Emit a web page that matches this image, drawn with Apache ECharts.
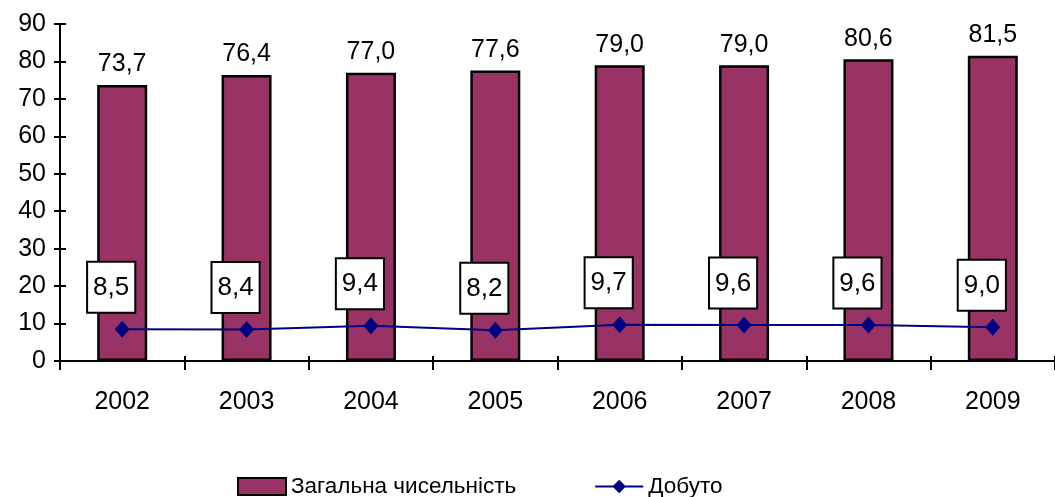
<!DOCTYPE html>
<html>
<head>
<meta charset="utf-8">
<script src="https://cdn.jsdelivr.net/npm/echarts@6/dist/echarts.min.js"></script>
<style>
  html, body { margin: 0; padding: 0; background: #fff; }
  #main { width: 1055px; height: 497px; }
</style>
</head>
<body>
<div id="main"></div>
<script>
var years = ['2002', '2003', '2004', '2005', '2006', '2007', '2008', '2009'];
var totalCount = [73.7, 76.4, 77.0, 77.6, 79.0, 79.0, 80.6, 81.5];
var produced = [8.5, 8.4, 9.4, 8.2, 9.7, 9.6, 9.6, 9.0];

var font = 'Liberation Sans, Arial, sans-serif';

function commaFmt(p) {
    return p.value.toFixed(1).replace('.', ',');
}

var chart = echarts.init(document.getElementById('main'));
chart.setOption({
    animation: false,
    textStyle: { fontFamily: font, color: '#000' },
    grid: { left: 60, right: -5, top: 24, bottom: 136 },
    legend: {
        top: 470,
        left: 232,
        itemGap: 78,
        itemWidth: 48,
        itemHeight: 17,
        textStyle: { fontSize: 22.5, color: '#000', fontFamily: font },
        data: [
            { name: 'Загальна чисельність', icon: 'rect' },
            { name: 'Добуто' }
        ]
    },
    xAxis: [
        {
            type: 'category',
            data: years,
            axisLine: { lineStyle: { color: '#000', width: 2 } },
            axisTick: { show: true, length: 9, lineStyle: { color: '#000', width: 2 } },
            axisLabel: { fontSize: 25, color: '#000', margin: 29, fontFamily: font }
        },
        {
            type: 'category',
            data: years,
            position: 'bottom',
            axisLine: { show: false },
            axisTick: { show: true, inside: true, length: 5, lineStyle: { color: '#000', width: 2 } },
            axisLabel: { show: false }
        }
    ],
    yAxis: [
        {
            type: 'value',
            min: 0,
            max: 90,
            interval: 10,
            splitLine: { show: false },
            axisLine: { show: true, lineStyle: { color: '#000', width: 2 } },
            axisTick: { show: true, length: 6, lineStyle: { color: '#000', width: 2 } },
            axisLabel: { fontSize: 25, color: '#000', margin: 14, fontFamily: font }
        },
        {
            type: 'value',
            min: 0,
            max: 90,
            interval: 10,
            position: 'left',
            splitLine: { show: false },
            axisLine: { show: false },
            axisTick: { show: true, inside: true, length: 6, lineStyle: { color: '#000', width: 2 } },
            axisLabel: { show: false }
        }
    ],
    series: [
        {
            name: 'Загальна чисельність',
            type: 'bar',
            data: totalCount,
            barWidth: 50,
            itemStyle: { color: '#993366', borderColor: '#000', borderWidth: 2.5 },
            label: {
                show: true,
                position: 'top',
                distance: 8,
                fontSize: 25,
                color: '#000',
                fontFamily: font,
                formatter: commaFmt
            }
        },
        {
            name: 'Добуто',
            type: 'line',
            data: produced,
            symbol: 'diamond',
            symbolSize: [15, 17],
            lineStyle: { color: '#000080', width: 2 },
            itemStyle: { color: '#000080' },
            label: {
                show: true,
                position: 'top',
                distance: 9,
                offset: [-11, 0],
                fontSize: 26,
                color: '#000',
                fontFamily: font,
                backgroundColor: '#fff',
                borderColor: '#000',
                borderWidth: 2,
                padding: [12, 5, 11, 5],
                formatter: commaFmt
            }
        }
    ]
});
</script>
</body>
</html>
